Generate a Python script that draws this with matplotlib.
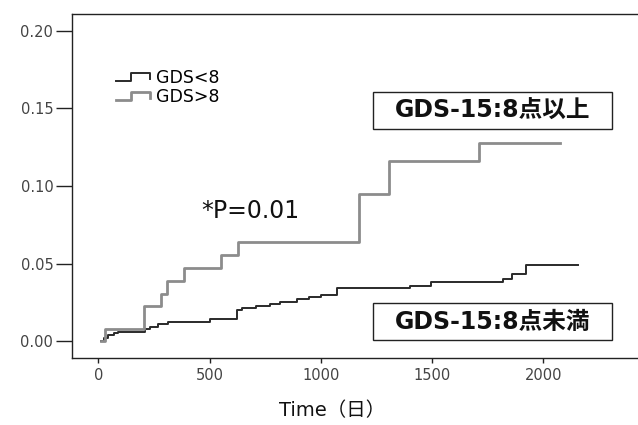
import numpy as np
import matplotlib
matplotlib.use("Agg")
import matplotlib.pyplot as plt
from matplotlib.lines import Line2D
from matplotlib.patches import Rectangle
from matplotlib.legend_handler import HandlerBase

plt.rcParams['font.family'] = ['DejaVu Sans', 'Noto Sans CJK JP']

# Cumulative incidence step data
high_t = [13, 31, 204, 284, 309, 385, 550, 626, 1173, 1308, 1712, 2076]
high_y = [0, 0.0077, 0.0225, 0.0307, 0.039, 0.047, 0.0554, 0.064, 0.0947, 0.116, 0.128, 0.128]

low_t = [13, 27, 45, 72, 90, 211, 234, 270, 315, 503, 623, 647, 710, 773, 818,
         894, 948, 1002, 1073, 1402, 1497, 1820, 1860, 1921, 2157]
low_y = [0, 0.0021, 0.0037, 0.005, 0.006, 0.0076, 0.0092, 0.0108, 0.0127, 0.0144,
         0.0202, 0.0214, 0.0224, 0.024, 0.0253, 0.0269, 0.0285, 0.0301, 0.0343,
         0.0359, 0.0379, 0.0401, 0.0433, 0.0491, 0.0491]

x_ticks = [0, 500, 1000, 1500, 2000]
y_ticks = [0.00, 0.05, 0.10, 0.15, 0.20]
y_tick_labels = ['0.00', '0.05', '0.10', '0.15', '0.20']
legend_labels = ['GDS<8', 'GDS>8']
box_high = 'GDS-15:8点以上'
box_low = 'GDS-15:8点未満'
p_text = '*P=0.01'
x_label = 'Time（日）'


class StepHandler(HandlerBase):
    def create_artists(self, legend, orig_handle, xdescent, ydescent, width, height, fontsize, trans):
        xs = np.array([0, 0.45, 0.45, 1, 1]) * width - xdescent
        ys = np.array([0.15, 0.15, 0.8, 0.8, 0.35]) * height - ydescent
        ln = Line2D(xs, ys, color=orig_handle.get_color(), lw=orig_handle.get_linewidth())
        ln.set_transform(trans)
        return [ln]


fig = plt.figure(figsize=(6.38, 4.25), dpi=100)
ax = fig.add_axes([72 / 638, 67 / 425, 566 / 638, 344 / 425])

l_low, = ax.step(low_t, low_y, where='post', color='#2a2a2a', lw=1.4)
l_high, = ax.step(high_t, high_y, where='post', color='#8c8c8c', lw=2.0)

ax.set_xlim(-118, 2425)
ax.set_ylim(-0.0108, 0.2108)
ax.set_xticks(x_ticks)
ax.set_yticks(y_ticks)
ax.set_yticklabels(y_tick_labels)

for s in ['left', 'top', 'bottom']:
    ax.spines[s].set_color('#222222')
    ax.spines[s].set_linewidth(1.0)
ax.spines['right'].set_visible(False)

ax.tick_params(axis='y', direction='out', length=11.5, width=1.0, color='#222222',
               labelsize=10.5, labelcolor='#444444', pad=2)
ax.tick_params(axis='x', direction='out', length=3.5, width=1.0, color='#222222',
               labelsize=10.5, labelcolor='#444444', pad=4)

ax.set_xlabel(x_label, fontsize=14, color='#111111')
ax.xaxis.set_label_coords(0.459, -0.125)

leg = ax.legend([l_low, l_high], legend_labels, handler_map={Line2D: StepHandler()},
                loc='upper left', bbox_to_anchor=(0.077, 0.84), frameon=False,
                fontsize=12.5, handlelength=2.0, handletextpad=0.35, labelspacing=0.05,
                borderpad=0, borderaxespad=0)

ax.text(0.316, 0.427, p_text, transform=ax.transAxes, fontsize=17,
        ha='center', va='center', color='#111111')

for (y0, y1), label in [((0.666, 0.773), box_high), ((0.052, 0.160), box_low)]:
    ax.add_patch(Rectangle((0.532, y0), 0.954 - 0.532, y1 - y0, transform=ax.transAxes,
                           facecolor='white', edgecolor='#222222', lw=1.0, zorder=4))
    ax.text(0.743, (y0 + y1) / 2, label, transform=ax.transAxes, fontsize=17,
            fontweight='bold', ha='center', va='center', color='#111111', zorder=5)

fig.savefig('out.png', dpi=100)
